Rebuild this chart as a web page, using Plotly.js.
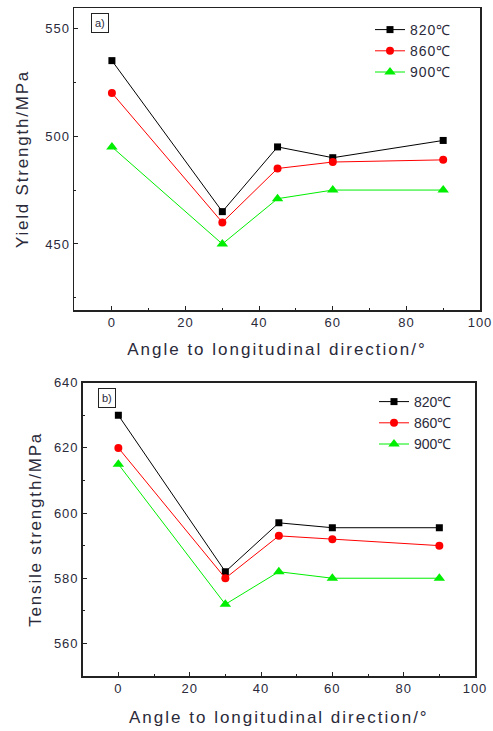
<!DOCTYPE html>
<html>
<head>
<meta charset="utf-8">
<script src="https://cdn.plot.ly/plotly-3.0.1.min.js"></script>
<style>
html,body{margin:0;padding:0;background:#fff;}
#chart{width:493px;height:731px;}
#chart .xtitle, #chart .x2title {letter-spacing: 2px;}
#chart .ytitle, #chart .y2title {letter-spacing: 1.8px;}
#chart .xtick text, #chart .ytick text, #chart .x2tick text, #chart .y2tick text {letter-spacing: 1px;}
#chart .legendtext {letter-spacing: 1px;}
</style>
</head>
<body>
<div id="chart"></div>
<script>
const angles = [0, 30, 45, 60, 90];
const seriesNames = ['820\u2103', '860\u2103', '900\u2103'];
const yield820 = [535, 465, 495, 490, 498];
const yield860 = [520, 460, 485, 488, 489];
const yield900 = [495, 450, 471, 475, 475];
const tensile820 = [630, 582, 597, 595.5, 595.5];
const tensile860 = [620, 580, 593, 592, 590];
const tensile900 = [615, 572, 582, 580, 580];
const xTitle = 'Angle to longitudinal direction/\u00B0';
const yTitleA = 'Yield Strength/MPa';
const yTitleB = 'Tensile strength/MPa';
const yTicksA = [450, 500, 550];
const yTicksB = [560, 580, 600, 620, 640];
const xTicks = [0, 20, 40, 60, 80, 100];

const colors = ['#000000', '#ff0000', '#00ee00'];
const symbols = ['square', 'circle', 'triangle-up'];
const sizes = [7, 8, 10];
const font = 'Liberation Sans, Arial, sans-serif';
const tcol = '#2a2a3a';

function mk(y, i, xa, ya, leg) {
  return {
    x: angles, y: y, type: 'scatter', mode: 'lines+markers',
    name: seriesNames[i], xaxis: xa, yaxis: ya, legend: leg,
    line: {color: colors[i], width: 1},
    marker: {color: colors[i], symbol: symbols[i], size: sizes[i]}
  };
}
const data = [
  mk(yield820, 0, 'x', 'y', 'legend'),
  mk(yield860, 1, 'x', 'y', 'legend'),
  mk(yield900, 2, 'x', 'y', 'legend'),
  mk(tensile820, 0, 'x2', 'y2', 'legend2'),
  mk(tensile860, 1, 'x2', 'y2', 'legend2'),
  mk(tensile900, 2, 'x2', 'y2', 'legend2')
];

const axCommon = {
  showline: true, mirror: true, linecolor: '#222', linewidth: 1.5,
  ticks: 'inside', ticklen: 4, tickcolor: '#222', showgrid: false, zeroline: false,
  tickfont: {family: font, size: 13, color: tcol}
};
const minorX = {ticks: 'inside', ticklen: 2, tickcolor: '#222', tickvals: [10, 30, 50, 70, 90]};
const legCommon = {
  bgcolor: 'rgba(0,0,0,0)', borderwidth: 0, xanchor: 'left', yanchor: 'top',
  font: {family: font, size: 14, color: tcol}, tracegroupgap: 0, itemwidth: 30
};
const xTitleFont = {family: font, size: 17, color: tcol};
const yTitleFont = {family: font, size: 17, color: tcol};

const layout = {
  width: 493, height: 731, margin: {l: 0, r: 0, t: 0, b: 0},
  paper_bgcolor: '#fff', plot_bgcolor: '#fff', showlegend: true,
  xaxis: Object.assign({}, axCommon, {
    domain: [74/493, 480/493], range: [-10.3, 100], anchor: 'y',
    tickvals: xTicks, minor: minorX,
    title: {text: xTitle, font: xTitleFont, standoff: 14}
  }),
  yaxis: Object.assign({}, axCommon, {
    domain: [1 - 310/731, 1 - 8/731], range: [419.4, 559.4], anchor: 'x',
    tickvals: yTicksA, minor: {ticks: 'inside', ticklen: 2, tickcolor: '#222', tickvals: [425, 475, 525]},
    title: {text: yTitleA, font: yTitleFont, standoff: 15}
  }),
  xaxis2: Object.assign({}, axCommon, {
    domain: [82.7/493, 475/493], range: [-10, 100], anchor: 'y2',
    tickvals: xTicks, minor: minorX,
    title: {text: xTitle, font: xTitleFont, standoff: 16}
  }),
  yaxis2: Object.assign({}, axCommon, {
    domain: [1 - 676/731, 1 - 382.7/731], range: [550, 640], anchor: 'x2',
    tickvals: yTicksB, minor: {ticks: 'inside', ticklen: 2, tickcolor: '#222', tickvals: [570, 590, 610, 630]},
    title: {text: yTitleB, font: yTitleFont, standoff: 11}
  }),
  legend: Object.assign({}, legCommon, {x: 370/493, y: 1 - 14/731}),
  legend2: Object.assign({}, legCommon, {x: 374/493, y: 1 - 386/731}),
  annotations: [
    {text: 'a)', xref: 'paper', yref: 'paper', x: 100/493, y: 1 - 23/731, xanchor: 'center', yanchor: 'middle',
     showarrow: false, font: {family: font, size: 11, color: tcol}, bordercolor: '#222', borderwidth: 1, borderpad: 3},
    {text: 'b)', xref: 'paper', yref: 'paper', x: 106.5/493, y: 1 - 398/731, xanchor: 'center', yanchor: 'middle',
     showarrow: false, font: {family: font, size: 11, color: tcol}, bordercolor: '#222', borderwidth: 1, borderpad: 3}
  ]
};

Plotly.newPlot('chart', data, layout, {displayModeBar: false, staticPlot: true});
</script>
</body>
</html>
